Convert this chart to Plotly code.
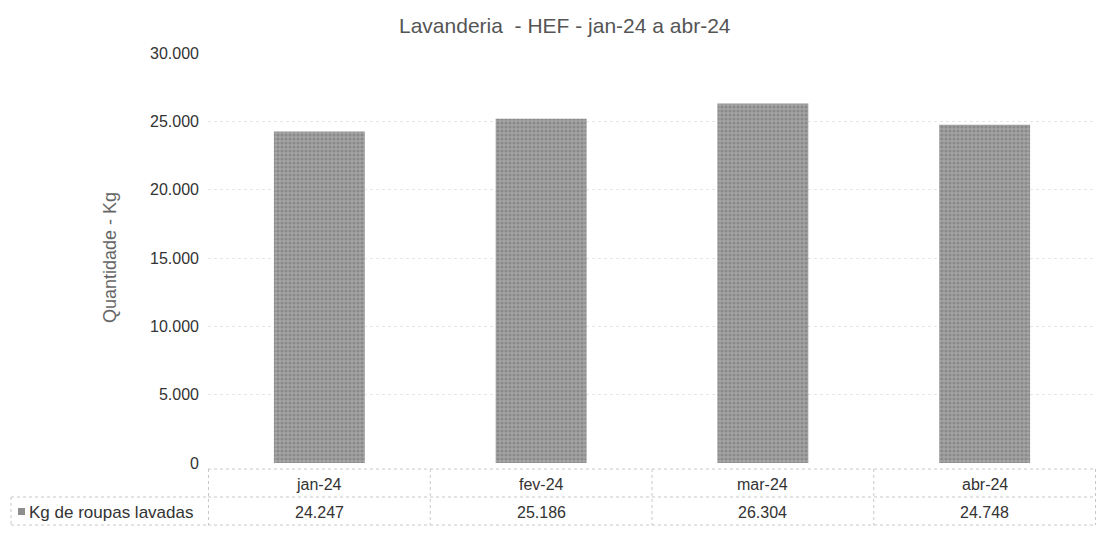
import plotly.graph_objects as go

categories = ["jan-24", "fev-24", "mar-24", "abr-24"]
values = [24247, 25186, 26304, 24748]
series_name = "Kg de roupas lavadas"
title_text = "Lavanderia  - HEF - jan-24 a abr-24"
y_title = "Quantidade - Kg"
y_ticks = [0, 5000, 10000, 15000, 20000, 25000, 30000]

W, H = 1118, 545
L, R, T, B = 200, 30, 45, 90
BAR_COLOR = "#8e8e8e"
GRID = "#c8c8c8"
FONT = "Liberation Sans, Arial"

def fmt(v):
    return f"{v:,}".replace(",", ".")

fig = go.Figure()
fig.add_trace(go.Bar(x=categories, y=values, name=series_name,
                     marker=dict(color=BAR_COLOR, line=dict(width=0),
                                 pattern=dict(shape=".", fgcolor="#6e6e6e", bgcolor="#a4a4a4", size=4, solidity=0.5)),
                     showlegend=False))

ph = H - T - B
def py(pix):
    return (H - B - pix) / ph

pw = W - L - R
def px(pix):
    return (pix - L) / pw

shapes = []
dot = dict(color=GRID, width=1, dash="dot")
for yp in [461, 489, 517]:
    shapes.append(dict(type="line", xref="paper", yref="paper", x0=0, x1=1, y0=py(yp), y1=py(yp), line=dot))
for yp in [489, 517]:
    shapes.append(dict(type="line", xref="paper", yref="paper", x0=px(3), x1=0, y0=py(yp), y1=py(yp), line=dot))
shapes.append(dict(type="line", xref="paper", yref="paper", x0=px(3), x1=px(3), y0=py(489), y1=py(517), line=dot))
for i in range(len(categories) + 1):
    shapes.append(dict(type="line", xref="x", yref="paper", x0=i - 0.5, x1=i - 0.5,
                       y0=py(461), y1=py(517), line=dot))
shapes.append(dict(type="rect", xref="paper", yref="paper", x0=px(10), x1=px(17), y0=py(500), y1=py(507),
                   fillcolor=BAR_COLOR, line=dict(width=0)))

annotations = []
for c, v in zip(categories, values):
    annotations.append(dict(x=c, xref="x", y=py(476), yref="paper", text=c, showarrow=False,
                            font=dict(family=FONT, size=16, color="#333"),
                            xanchor="center", yanchor="middle"))
    annotations.append(dict(x=c, xref="x", y=py(504), yref="paper", text=fmt(v), showarrow=False,
                            font=dict(family=FONT, size=16, color="#333"),
                            xanchor="center", yanchor="middle"))
annotations.append(dict(x=px(19), xref="paper", y=py(504), yref="paper", text=series_name, showarrow=False,
                        font=dict(family=FONT, size=17, color="#333"),
                        xanchor="left", yanchor="middle"))
annotations.append(dict(x=px(102), xref="paper", y=py(250), yref="paper", text=y_title, showarrow=False,
                        textangle=-90,
                        font=dict(family=FONT, size=18, color="#666"),
                        xanchor="center", yanchor="middle"))
annotations.append(dict(x=px(557), xref="paper", y=py(18), yref="paper", text=title_text, showarrow=False,
                        font=dict(family=FONT, size=21, color="#555"),
                        xanchor="center", yanchor="middle"))

fig.update_layout(
    width=W, height=H,
    margin=dict(l=L, r=R, t=T, b=B),
    plot_bgcolor="white", paper_bgcolor="white",
    separators=",.",
    bargap=0.59,
    xaxis=dict(showticklabels=False, showgrid=False, zeroline=False, showline=False, ticks=""),
    yaxis=dict(range=[0, 30000], tickvals=y_ticks, tickformat=",d",
               tickfont=dict(family=FONT, size=16, color="#333"),
               showgrid=True, gridcolor="#e6e6e6", griddash="dot", gridwidth=1,
               zeroline=False, showline=False, ticks="", ticklabelstandoff=8),
    shapes=shapes,
    annotations=annotations,
)

fig.write_html("out.html")
